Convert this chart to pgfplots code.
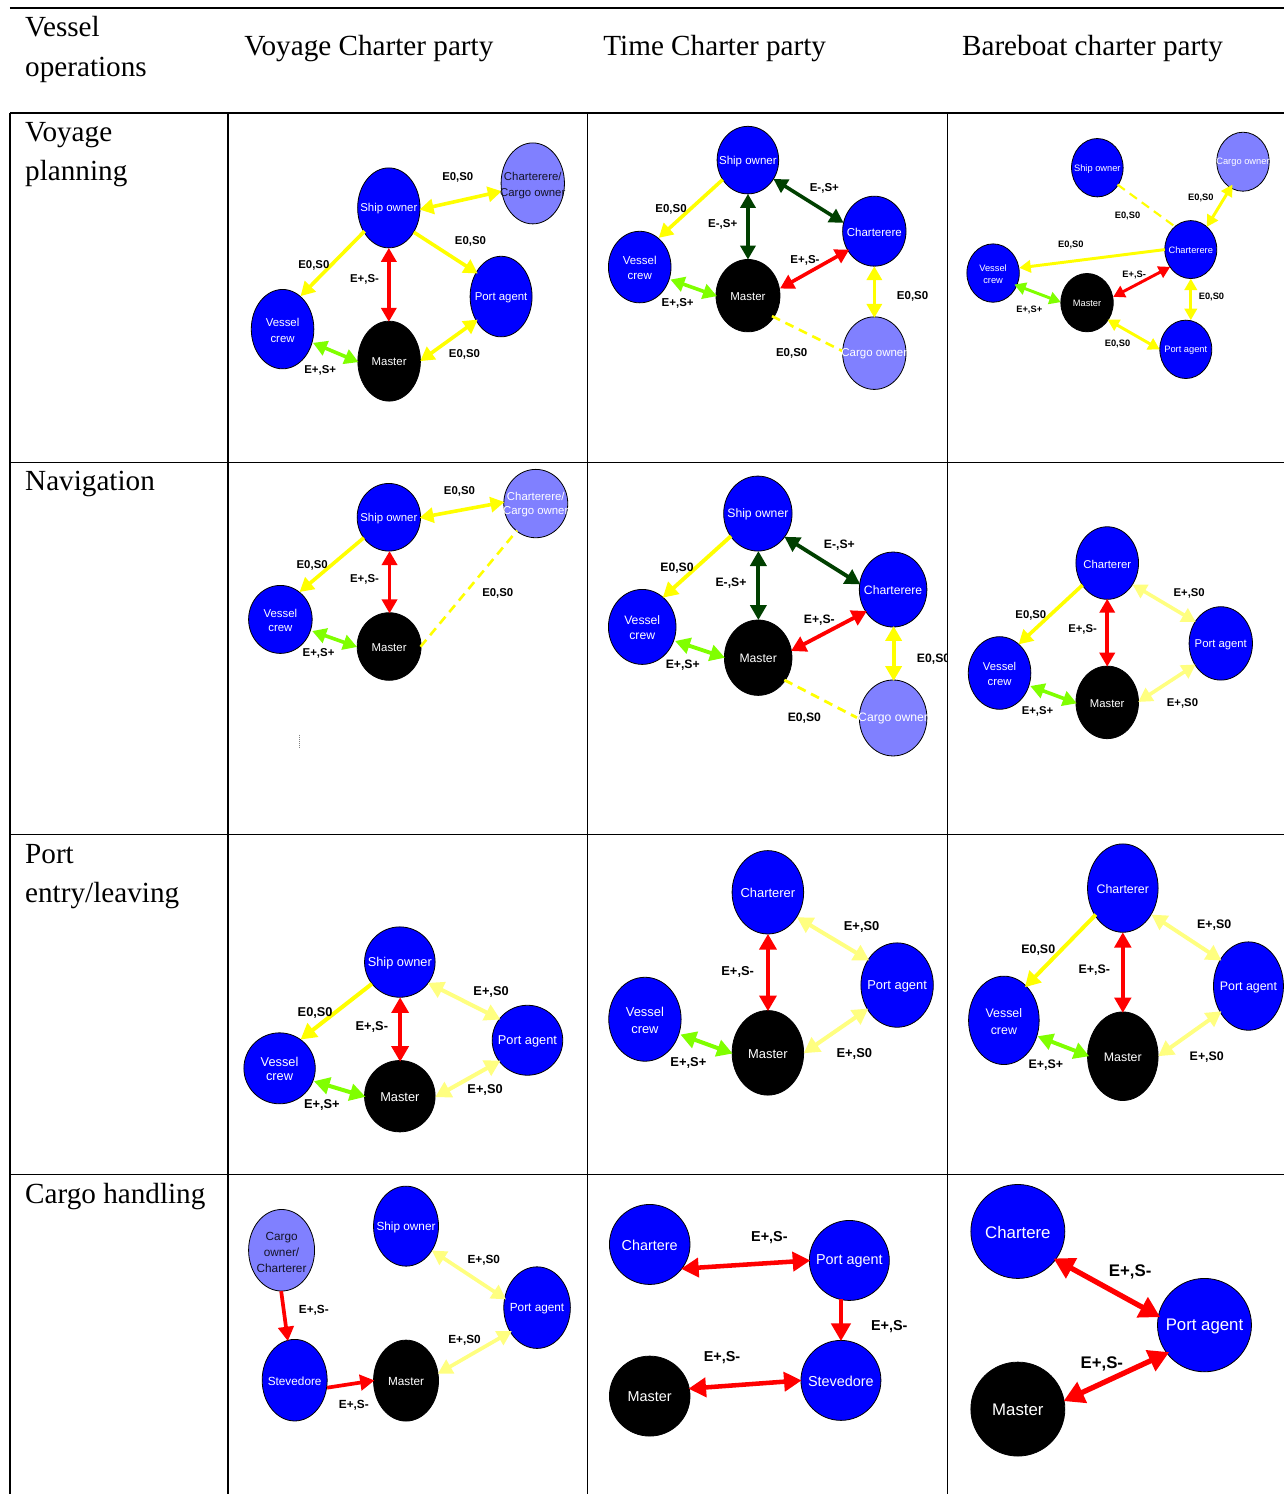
\documentclass[border=0pt]{standalone}
\usepackage{pgfplots}
\pgfplotsset{compat=1.18}
\usepackage{fontspec}
\setmainfont{Liberation Serif}
\setsansfont{Liberation Sans}
\usetikzlibrary{arrows.meta}
\definecolor{nb}{RGB}{0,0,255}
\definecolor{np}{RGB}{128,128,255}
\definecolor{ay}{RGB}{255,255,0}
\definecolor{aly}{RGB}{255,255,128}
\definecolor{ar}{RGB}{255,0,0}
\definecolor{ag}{RGB}{128,255,0}
\definecolor{adg}{RGB}{0,64,0}
\definecolor{dk}{RGB}{20,20,40}
\newcommand\mkstyles[4]{%
\tikzset{
 #1bi/.style={<->, >={Triangle[length=14pt,width=15pt,scale=#2]}, line width=#2*3.6pt},
 #1sg/.style={->, >={Triangle[length=14pt,width=15pt,scale=#2]}, line width=#2*3.6pt},
 #1ds/.style={dash pattern=on 9pt off 6pt, line width=#2*2.6pt},
 #1lab/.style={font=\fontsize{#3}{#4}\selectfont\sffamily\bfseries, inner sep=0pt, text=black, yshift=-1pt},
 #1nt/.style={font=\fontsize{#3}{#4}\selectfont\sffamily, inner sep=0pt, align=center, text=white, yshift=-1pt},
}}
\mkstyles{ca}{1.0}{11.4}{15.7}
\mkstyles{cb}{1.0}{11.5}{15.2}
\mkstyles{cc}{0.82}{9.3}{12.3}
\mkstyles{cd}{1.0}{11.4}{14.0}
\mkstyles{ce}{1.07}{12.2}{15.3}
\mkstyles{cf}{1.0}{11.3}{15.0}
\mkstyles{cg}{1.12}{12.8}{14.0}
\mkstyles{ch}{1.12}{12.9}{16.3}
\mkstyles{ci}{1.09}{12.4}{17.0}
\mkstyles{cj}{1.03}{11.8}{15.8}
\mkstyles{ck}{1.26}{14.4}{18}
\mkstyles{cl}{1.47}{16.8}{21}
\tikzset{hd/.style={font=\fontsize{29.2}{35}\selectfont, inner sep=0pt, text=black}}
% node: x y rx ry fill
\newcommand\Nd[5]{\addplot[only marks, mark=*, mark size=#4, mark options={xscale=#3/#4, fill=#5, draw=black, line width=0.8pt}] coordinates {(#1,#2)};}
% text: prefix x y color text
\newcommand\Tx[5]{\node[#1nt, text=#4, on layer=axis foreground] at (axis cs:#2,#3) {#5};}
% label: prefix x y text
\newcommand\Lb[4]{\node[#1lab, on layer=axis foreground] at (axis cs:#2,#3) {#4};}
% arrow: prefix type color x1 y1 x2 y2
\newcommand\Ar[7]{\addplot[#1#2, color=#3] coordinates {(#4,#5) (#6,#7)};}
\newcommand\Ln[4]{\addplot[black, line width=1.3pt] coordinates {(#1,#2) (#3,#4)};}
\begin{document}
\begin{tikzpicture}
\begin{axis}[x=1pt, y=1pt, xmin=0, xmax=1285, ymin=0, ymax=1495, y dir=reverse, hide axis, clip=false, clip marker paths=true, set layers=standard]
\path (rel axis cs:0,0) rectangle (rel axis cs:1,1);
% table lines
\Ln{10}{8}{1285}{8}
\Ln{10}{113}{1285}{113}
\Ln{10}{463}{1285}{463}
\Ln{10}{835}{1285}{835}
\Ln{10}{1175}{1285}{1175}
\Ln{10}{113}{10}{1495}
\Ln{228}{113}{228}{1495}
\Ln{588}{113}{588}{1495}
\Ln{948}{113}{948}{1495}
% headers
\node[hd, anchor=base west] at (axis cs:25,37) {Vessel};
\node[hd, anchor=base west] at (axis cs:25,77) {operations};
\node[hd, anchor=base] at (axis cs:369,56) {Voyage Charter party};
\node[hd, anchor=base] at (axis cs:715,56) {Time Charter party};
\node[hd, anchor=base] at (axis cs:1093,56) {Bareboat charter party};
\node[hd, anchor=base west] at (axis cs:25,142) {Voyage};
\node[hd, anchor=base west] at (axis cs:25,181) {planning};
\node[hd, anchor=base west] at (axis cs:25,491) {Navigation};
\node[hd, anchor=base west] at (axis cs:25,864) {Port};
\node[hd, anchor=base west] at (axis cs:25,903) {entry/leaving};
\node[hd, anchor=base west] at (axis cs:25,1204) {Cargo handling};
% ---------- cell 1
\Nd{389}{208}{31.2}{40}{nb}
\Nd{533}{183.5}{31.7}{40.5}{np}
\Nd{501.3}{296.7}{31}{40.3}{nb}
\Nd{282.7}{329.3}{31.3}{39.7}{nb}
\Nd{389.3}{361.3}{31.3}{40}{black}
\Ar{ca}{bi}{ay}{419.7}{209.7}{502}{191.3}
\Ar{ca}{sg}{ay}{414}{232.3}{478}{273.7}
\Ar{ca}{sg}{ay}{364.7}{231.3}{300.7}{296.3}
\Ar{ca}{bi}{ar}{389}{248}{389}{322}
\Ar{ca}{bi}{ag}{313}{343}{358.7}{362.3}
\Ar{ca}{bi}{ay}{478}{319.7}{420.3}{361.3}
\Tx{ca}{389}{208}{white}{Ship owner}
\Tx{ca}{533}{184.5}{dk}{Charterere/\\Cargo owner}
\Tx{ca}{501.3}{296.7}{white}{Port agent}
\Tx{ca}{282.7}{329.3}{white}{Vessel\\crew}
\Tx{ca}{389.3}{361.3}{white}{Master}
\Lb{ca}{458}{176.3}{E0,S0}
\Lb{ca}{470.7}{240.7}{E0,S0}
\Lb{ca}{314}{264.7}{E0,S0}
\Lb{ca}{364.7}{279}{E+,S-}
\Lb{ca}{320.3}{369.7}{E+,S+}
\Lb{ca}{464.7}{353.7}{E0,S0}
% ---------- cell 2
\Nd{748.2}{160.2}{30.8}{33.8}{nb}
\Nd{874.7}{231.3}{31.7}{35}{nb}
\Nd{640}{267.2}{31.3}{35.8}{nb}
\Nd{748.3}{295.8}{32}{36.2}{black}
\Nd{874.7}{353.3}{31.7}{36.3}{np}
\Ar{cb}{sg}{ay}{723}{179.7}{659}{238}
\Ar{cb}{bi}{adg}{748.3}{194}{748.3}{259.7}
\Ar{cb}{bi}{adg}{773.7}{179}{844}{223}
\Ar{cb}{bi}{ar}{849.7}{249.7}{780.3}{288.7}
\Ar{cb}{bi}{ag}{670.7}{279.7}{717.3}{296.3}
\Ar{cb}{bi}{ay}{874.7}{266.3}{874.7}{318}
\Ar{cb}{ds}{ay}{772.3}{316.3}{843}{351.3}
\Tx{cb}{748.2}{160.2}{white}{Ship owner}
\Tx{cb}{874.7}{231.3}{white}{Charterere}
\Tx{cb}{640}{267.2}{white}{Vessel\\crew}
\Tx{cb}{748.3}{295.8}{white}{Master}
\Tx{cb}{874.7}{353.3}{white}{Cargo owner}
\Lb{cb}{824.7}{187}{E-,S+}
\Lb{cb}{671.3}{208.7}{E0,S0}
\Lb{cb}{723}{223.7}{E-,S+}
\Lb{cb}{805.3}{259.7}{E+,S-}
\Lb{cb}{913}{295.7}{E0,S0}
\Lb{cb}{678}{302.3}{E+,S+}
\Lb{cb}{792}{353}{E0,S0}
% ---------- cell 3
\Nd{1097.8}{167.8}{25.8}{29.2}{nb}
\Nd{1243.5}{161.8}{26.2}{29.5}{np}
\Nd{1191.3}{249.7}{26}{29}{nb}
\Nd{993.5}{273.2}{26.2}{29.2}{nb}
\Nd{1087.5}{302.8}{26.2}{29.2}{black}
\Nd{1186.3}{349.5}{26}{29.2}{nb}
\Ar{cc}{ds}{ay}{1118}{184.7}{1176.3}{227.3}
\Ar{cc}{bi}{ay}{1233}{184.7}{1207.3}{227}
\Ar{cc}{sg}{ay}{1165.3}{249.7}{1019.7}{268}
\Ar{cc}{bi}{ar}{1170.7}{267}{1113.7}{297}
\Ar{cc}{bi}{ag}{1014.7}{284.7}{1061.3}{302.3}
\Ar{cc}{bi}{ay}{1191.3}{278.7}{1191.3}{320.3}
\Ar{cc}{bi}{ay}{1108}{319.7}{1160.3}{349.7}
\Tx{cc}{1097.8}{167.8}{white}{Ship owner}
\Tx{cc}{1243.5}{161.8}{white}{Cargo owner}
\Tx{cc}{1191.3}{249.7}{white}{Charterere}
\Tx{cc}{993.5}{273.2}{white}{Vessel\\crew}
\Tx{cc}{1087.5}{302.8}{white}{Master}
\Tx{cc}{1186.3}{349.5}{white}{Port agent}
\Lb{cc}{1201.3}{197.3}{E0,S0}
\Lb{cc}{1128}{214.7}{E0,S0}
\Lb{cc}{1071.3}{244}{E0,S0}
\Lb{cc}{1134.7}{273.7}{E+,S-}
\Lb{cc}{1212}{296.3}{E0,S0}
\Lb{cc}{1029.7}{308.7}{E+,S+}
\Lb{cc}{1118}{343}{E0,S0}
% ---------- cell 4
\Nd{389}{517.5}{31.7}{33.8}{nb}
\Nd{536}{503.8}{32}{34.2}{np}
\Nd{280.5}{619.7}{31.8}{34}{nb}
\Nd{389.3}{646.8}{32}{33.8}{black}
\Ar{cd}{bi}{ay}{419.7}{518}{504.7}{502.3}
\Ar{cd}{sg}{ay}{364}{538}{299.7}{592.3}
\Ar{cd}{bi}{ar}{389.7}{551.3}{389.7}{613.7}
\Ar{cd}{bi}{ag}{312.3}{631.3}{357.3}{647.3}
\Ar{cd}{ds}{ay}{420.7}{647}{517.3}{530.7}
\addplot[gray, line width=0.8pt, dash pattern=on 1pt off 1pt] coordinates {(300,735) (300,748)};
\Tx{cd}{389}{517.5}{white}{Ship owner}
\Tx{cd}{536}{504}{white}{Charterere/\\Cargo owner}
\Tx{cd}{280.5}{619.7}{white}{Vessel\\crew}
\Tx{cd}{389.3}{646.8}{white}{Master}
\Lb{cd}{459.7}{490.3}{E0,S0}
\Lb{cd}{312.3}{564.7}{E0,S0}
\Lb{cd}{364.7}{579}{E+,S-}
\Lb{cd}{498}{592.3}{E0,S0}
\Lb{cd}{318.7}{653}{E+,S+}
% ---------- cell 5
\Nd{758.2}{513.8}{34.2}{37.5}{nb}
\Nd{893.5}{589.8}{33.8}{37.5}{nb}
\Nd{642.5}{627.2}{33.8}{37.5}{nb}
\Nd{758.5}{658}{33.8}{37.7}{black}
\Nd{893.5}{718.3}{33.8}{38}{np}
\Ar{ce}{sg}{ay}{731.3}{536.3}{663}{598}
\Ar{ce}{bi}{adg}{758.7}{551.3}{758.7}{620.3}
\Ar{ce}{bi}{adg}{784.7}{537}{860.7}{584.7}
\Ar{ce}{bi}{ar}{867.3}{611.3}{791.3}{651.3}
\Ar{ce}{bi}{ag}{675.3}{641.3}{725.3}{658}
\Ar{ce}{bi}{ay}{894}{626.3}{894}{681.3}
\Ar{ce}{ds}{ay}{784.7}{680.3}{857.3}{718}
\Tx{ce}{758.2}{513.8}{white}{Ship owner}
\Tx{ce}{893.5}{589.8}{white}{Charterere}
\Tx{ce}{642.5}{627.2}{white}{Vessel\\crew}
\Tx{ce}{758.5}{658}{white}{Master}
\Tx{ce}{893.5}{718.3}{white}{Cargo owner}
\Lb{ce}{839.7}{544}{E-,S+}
\Lb{ce}{677.3}{567.3}{E0,S0}
\Lb{ce}{731.3}{582}{E-,S+}
\Lb{ce}{819.7}{619.7}{E+,S-}
\begin{scope}
\clip (axis cs:588,463) rectangle (axis cs:947,835);
\node[celab] at (axis cs:934,658) {E0,S0};
\end{scope}
\Lb{ce}{683}{664.7}{E+,S+}
\Lb{ce}{804.7}{718}{E0,S0}
% ---------- cell 6
\Nd{1107.7}{563.3}{31.3}{36.3}{nb}
\Nd{1221.3}{643.7}{31.7}{36.7}{nb}
\Nd{1000}{673.3}{31.3}{36.3}{nb}
\Nd{1107.7}{702.7}{31.3}{36.3}{black}
\Ar{cf}{sg}{ay}{1083}{585.3}{1019}{644.7}
\Ar{cf}{bi}{ar}{1107.7}{599}{1107.7}{667}
\Ar{cf}{bi}{aly}{1133}{584.7}{1196.3}{622.3}
\Ar{cf}{bi}{ag}{1030.7}{686.3}{1077.3}{703.7}
\Ar{cf}{bi}{aly}{1196.3}{664.7}{1138.7}{702.3}
\Tx{cf}{1107.7}{563.3}{white}{Charterer}
\Tx{cf}{1221.3}{643.7}{white}{Port agent}
\Tx{cf}{1000}{673.3}{white}{Vessel\\crew}
\Tx{cf}{1107.7}{702.7}{white}{Master}
\Lb{cf}{1189.7}{593}{E+,S0}
\Lb{cf}{1031.3}{614.7}{E0,S0}
\Lb{cf}{1083}{629}{E+,S-}
\Lb{cf}{1038}{710.3}{E+,S+}
\Lb{cf}{1183}{702.3}{E+,S0}
% ---------- cell 7
\Nd{400}{962.5}{35.3}{35.2}{nb}
\Nd{527.7}{1040.7}{35.3}{35}{nb}
\Nd{279.7}{1068.8}{35.7}{35.5}{nb}
\Nd{400}{1096.7}{35.3}{35.7}{black}
\Ar{cg}{sg}{ay}{372}{984.3}{300.7}{1040}
\Ar{cg}{bi}{ar}{400.3}{997.7}{400.3}{1062.3}
\Ar{cg}{bi}{aly}{428}{983.3}{500.7}{1020}
\Ar{cg}{bi}{ag}{314}{1081.7}{365.7}{1097.3}
\Ar{cg}{bi}{aly}{500.7}{1061}{435.3}{1097.7}
\Tx{cg}{400}{962.5}{white}{Ship owner}
\Tx{cg}{527.7}{1040.7}{white}{Port agent}
\Tx{cg}{279.7}{1068.8}{white}{Vessel\\crew}
\Tx{cg}{400}{1096.7}{white}{Master}
\Lb{cg}{491.3}{991}{E+,S0}
\Lb{cg}{315.3}{1012.3}{E0,S0}
\Lb{cg}{372}{1026.7}{E+,S-}
\Lb{cg}{485.3}{1090}{E+,S0}
\Lb{cg}{322}{1104.3}{E+,S+}
% ---------- cell 8
\Nd{768.2}{892.7}{35.8}{41.7}{nb}
\Nd{897.5}{985.5}{36.2}{42.2}{nb}
\Nd{645.2}{1019.7}{36.2}{42}{nb}
\Nd{768.2}{1053.3}{35.8}{42.3}{black}
\Ar{ch}{bi}{ar}{768.3}{934.3}{768.3}{1011.7}
\Ar{ch}{bi}{aly}{797.3}{917.7}{869.7}{961}
\Ar{ch}{bi}{ag}{680.7}{1035}{733}{1054}
\Ar{ch}{bi}{aly}{868.7}{1009}{804}{1053.7}
\Tx{ch}{768.2}{892.7}{white}{Charterer}
\Tx{ch}{897.5}{985.5}{white}{Port agent}
\Tx{ch}{645.2}{1019.7}{white}{Vessel\\crew}
\Tx{ch}{768.2}{1053.3}{white}{Master}
\Lb{ch}{862}{926.7}{E+,S0}
\Lb{ch}{738}{971}{E+,S-}
\Lb{ch}{854.7}{1053.3}{E+,S0}
\Lb{ch}{688.7}{1062.7}{E+,S+}
% ---------- cell 9
\Nd{1123.3}{888.5}{35.3}{44.2}{nb}
\Nd{1249}{986.5}{35}{44.2}{nb}
\Nd{1004.3}{1020.8}{35.3}{44.2}{nb}
\Nd{1123.3}{1056.7}{35.3}{44.3}{black}
\Ar{ci}{sg}{ay}{1096.3}{915}{1025.3}{987.7}
\Ar{ci}{bi}{ar}{1123.3}{932.7}{1123.3}{1013.3}
\Ar{ci}{bi}{aly}{1152}{915}{1222}{961}
\Ar{ci}{bi}{ag}{1038}{1036.7}{1089.7}{1056.7}
\Ar{ci}{bi}{aly}{1222}{1011.7}{1158.7}{1056.7}
\Tx{ci}{1123.3}{888.5}{white}{Charterer}
\Tx{ci}{1249}{986.5}{white}{Port agent}
\Tx{ci}{1004.3}{1020.8}{white}{Vessel\\crew}
\Tx{ci}{1123.3}{1056.7}{white}{Master}
\Lb{ci}{1214.7}{924.3}{E+,S0}
\Lb{ci}{1038.7}{950}{E0,S0}
\Lb{ci}{1094.7}{970}{E+,S-}
\Lb{ci}{1207.3}{1056.7}{E+,S0}
\Lb{ci}{1046.3}{1064.3}{E+,S+}
% ---------- cell 10
\Nd{281.7}{1250.8}{33}{40.8}{np}
\Nd{406.2}{1226.7}{32.5}{40}{nb}
\Nd{537.3}{1308.2}{33.3}{40.8}{nb}
\Nd{294.8}{1380.8}{32.5}{40.8}{nb}
\Nd{406.2}{1381.2}{32.5}{40.5}{black}
\Ar{cj}{sg}{ar}{281.3}{1291.7}{288}{1341.7}
\Ar{cj}{sg}{ar}{327.3}{1388.3}{374.7}{1381}
\Ar{cj}{bi}{aly}{432}{1251}{506.3}{1300}
\Ar{cj}{bi}{aly}{512}{1331.7}{438}{1374.3}
\Tx{cj}{281.7}{1251.7}{dk}{Cargo\\owner/\\Charterer}
\Tx{cj}{406.2}{1226.7}{white}{Ship owner}
\Tx{cj}{537.3}{1308.2}{white}{Port agent}
\Tx{cj}{294.8}{1380.8}{white}{Stevedore}
\Tx{cj}{406.2}{1381.2}{white}{Master}
\Lb{cj}{484}{1260}{E+,S0}
\Lb{cj}{314}{1310}{E+,S-}
\Lb{cj}{464.7}{1340}{E+,S0}
\Lb{cj}{354}{1405}{E+,S-}
% ---------- cell 11
\Nd{650}{1245}{40.3}{40}{nb}
\Nd{849.7}{1261}{40}{40}{nb}
\Nd{650}{1396.7}{40.3}{40}{black}
\Nd{841.3}{1381}{40}{40}{nb}
\Ar{ck}{bi}{ar}{681.3}{1269.3}{810.7}{1261}
\Ar{ck}{sg}{ar}{841.3}{1300}{841.3}{1341.7}
\Ar{ck}{bi}{ar}{688.7}{1389.3}{802}{1381}
\Tx{ck}{650}{1245}{white}{Chartere}
\Tx{ck}{849.7}{1261}{white}{Port agent}
\Tx{ck}{650}{1396.7}{white}{Master}
\Tx{ck}{841.3}{1381}{white}{Stevedore}
\Lb{ck}{769.7}{1236.7}{E+,S-}
\Lb{ck}{889.7}{1325.7}{E+,S-}
\Lb{ck}{722.3}{1356.7}{E+,S-}
% ---------- cell 12
\Nd{1018.3}{1232}{47}{47}{nb}
\Nd{1205}{1325.7}{47}{46.7}{nb}
\Nd{1018.3}{1409.7}{47}{47}{black}
\Ar{cl}{bi}{ar}{1054}{1259}{1160.7}{1317.7}
\Ar{cl}{bi}{ar}{1169.7}{1352.7}{1064}{1401.7}
\Tx{cl}{1018.3}{1232}{white}{Chartere}
\Tx{cl}{1205}{1325.7}{white}{Port agent}
\Tx{cl}{1018.3}{1409.7}{white}{Master}
\Lb{cl}{1130.7}{1271}{E+,S-}
\Lb{cl}{1102.3}{1363.3}{E+,S-}
\end{axis}
\end{tikzpicture}
\end{document}
